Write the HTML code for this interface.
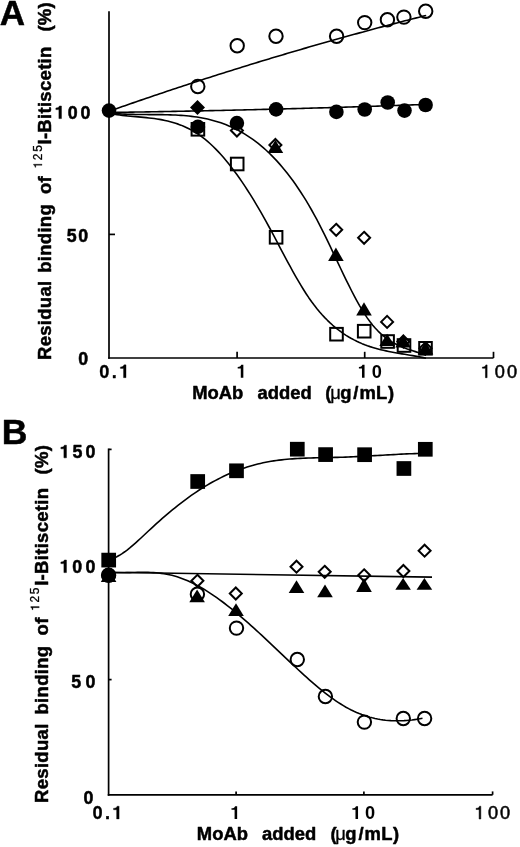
<!DOCTYPE html>
<html><head><meta charset="utf-8"><style>
html,body{margin:0;padding:0;background:#fff;}
svg{display:block;will-change:transform;}
text{font-family:"Liberation Sans",sans-serif;fill:#000;stroke:#000;stroke-width:0.5px;stroke-linejoin:round;}
</style></head><body>
<svg width="520" height="847" viewBox="0 0 520 847">
<rect width="520" height="847" fill="#fff"/>
<line x1="109" y1="11.2" x2="109" y2="358.85" stroke="#000" stroke-width="1.7"/>
<line x1="108.15" y1="358.0" x2="493.5" y2="358.0" stroke="#000" stroke-width="1.7"/>
<line x1="237.1" y1="351.8" x2="237.1" y2="358.0" stroke="#000" stroke-width="1.7"/>
<line x1="364.7" y1="351.8" x2="364.7" y2="358.0" stroke="#000" stroke-width="1.7"/>
<line x1="493.5" y1="351.8" x2="493.5" y2="358.0" stroke="#000" stroke-width="1.7"/>
<line x1="109" y1="234.4" x2="115" y2="234.4" stroke="#000" stroke-width="1.7"/>
<path d="M109.00,111.26 L111.67,110.32 L114.33,109.38 L117.00,108.44 L119.66,107.51 L122.33,106.58 L124.99,105.65 L127.66,104.73 L130.32,103.80 L132.99,102.88 L135.66,101.96 L138.32,101.04 L140.99,100.13 L143.65,99.22 L146.32,98.31 L148.98,97.40 L151.65,96.49 L154.31,95.59 L156.98,94.69 L159.65,93.79 L162.31,92.89 L164.98,92.00 L167.64,91.11 L170.31,90.22 L172.97,89.33 L175.64,88.45 L178.30,87.56 L180.97,86.68 L183.64,85.81 L186.30,84.93 L188.97,84.06 L191.63,83.18 L194.30,82.32 L196.96,81.45 L199.63,80.58 L202.29,79.72 L204.96,78.86 L207.63,78.00 L210.29,77.15 L212.96,76.30 L215.62,75.44 L218.29,74.60 L220.95,73.75 L223.62,72.91 L226.28,72.06 L228.95,71.22 L231.62,70.39 L234.28,69.55 L236.95,68.72 L239.61,67.89 L242.28,67.06 L244.94,66.24 L247.61,65.41 L250.27,64.59 L252.94,63.77 L255.61,62.95 L258.27,62.14 L260.94,61.33 L263.60,60.52 L266.27,59.71 L268.93,58.90 L271.60,58.10 L274.26,57.30 L276.93,56.50 L279.59,55.71 L282.26,54.91 L284.93,54.12 L287.59,53.33 L290.26,52.54 L292.92,51.76 L295.59,50.98 L298.25,50.20 L300.92,49.42 L303.58,48.64 L306.25,47.87 L308.92,47.10 L311.58,46.33 L314.25,45.56 L316.91,44.80 L319.58,44.04 L322.24,43.28 L324.91,42.52 L327.57,41.76 L330.24,41.01 L332.91,40.26 L335.57,39.51 L338.24,38.76 L340.90,38.02 L343.57,37.28 L346.23,36.54 L348.90,35.80 L351.56,35.07 L354.23,34.34 L356.90,33.61 L359.56,32.88 L362.23,32.15 L364.89,31.43 L367.56,30.71 L370.22,29.99 L372.89,29.27 L375.55,28.56 L378.22,27.85 L380.89,27.14 L383.55,26.43 L386.22,25.72 L388.88,25.02 L391.55,24.32 L394.21,23.62 L396.88,22.93 L399.54,22.23 L402.21,21.54 L404.88,20.85 L407.54,20.16 L410.21,19.48 L412.87,18.80 L415.54,18.12 L418.20,17.44 L420.87,16.76 L423.53,16.09 L426.20,15.42" fill="none" stroke="#000" stroke-width="1.6" stroke-linejoin="round"/>
<path d="M109.00,112.46 L111.66,112.42 L114.32,112.38 L116.98,112.34 L119.64,112.30 L122.30,112.26 L124.96,112.22 L127.62,112.18 L130.28,112.14 L132.94,112.10 L135.61,112.06 L138.27,112.01 L140.93,111.97 L143.59,111.93 L146.25,111.88 L148.91,111.84 L151.57,111.79 L154.23,111.74 L156.89,111.70 L159.55,111.65 L162.21,111.60 L164.87,111.55 L167.53,111.51 L170.19,111.46 L172.85,111.41 L175.51,111.36 L178.17,111.31 L180.83,111.26 L183.49,111.20 L186.15,111.15 L188.82,111.10 L191.48,111.05 L194.14,110.99 L196.80,110.94 L199.46,110.88 L202.12,110.83 L204.78,110.77 L207.44,110.72 L210.10,110.66 L212.76,110.60 L215.42,110.55 L218.08,110.49 L220.74,110.43 L223.40,110.37 L226.06,110.31 L228.72,110.25 L231.38,110.19 L234.04,110.13 L236.70,110.07 L239.36,110.01 L242.03,109.94 L244.69,109.88 L247.35,109.82 L250.01,109.75 L252.67,109.69 L255.33,109.62 L257.99,109.56 L260.65,109.49 L263.31,109.42 L265.97,109.36 L268.63,109.29 L271.29,109.22 L273.95,109.15 L276.61,109.08 L279.27,109.01 L281.93,108.94 L284.59,108.87 L287.25,108.80 L289.91,108.73 L292.57,108.66 L295.24,108.59 L297.90,108.51 L300.56,108.44 L303.22,108.37 L305.88,108.29 L308.54,108.22 L311.20,108.14 L313.86,108.06 L316.52,107.99 L319.18,107.91 L321.84,107.83 L324.50,107.75 L327.16,107.68 L329.82,107.60 L332.48,107.52 L335.14,107.44 L337.80,107.36 L340.46,107.28 L343.12,107.19 L345.78,107.11 L348.45,107.03 L351.11,106.95 L353.77,106.86 L356.43,106.78 L359.09,106.69 L361.75,106.61 L364.41,106.52 L367.07,106.44 L369.73,106.35 L372.39,106.26 L375.05,106.18 L377.71,106.09 L380.37,106.00 L383.03,105.91 L385.69,105.82 L388.35,105.73 L391.01,105.64 L393.67,105.55 L396.33,105.46 L398.99,105.36 L401.66,105.27 L404.32,105.18 L406.98,105.09 L409.64,104.99 L412.30,104.90 L414.96,104.80 L417.62,104.71 L420.28,104.61 L422.94,104.51 L425.60,104.42" fill="none" stroke="#000" stroke-width="1.6" stroke-linejoin="round"/>
<path d="M109.00,112.93 L111.66,113.22 L114.33,113.47 L116.99,113.68 L119.66,113.87 L122.32,114.03 L124.98,114.16 L127.65,114.27 L130.31,114.35 L132.97,114.42 L135.64,114.47 L138.30,114.51 L140.97,114.54 L143.63,114.56 L146.29,114.57 L148.96,114.58 L151.62,114.59 L154.29,114.60 L156.95,114.61 L159.61,114.63 L162.28,114.66 L164.94,114.71 L167.61,114.77 L170.27,114.84 L172.93,114.93 L175.60,115.05 L178.26,115.19 L180.92,115.36 L183.59,115.56 L186.25,115.79 L188.92,116.05 L191.58,116.35 L194.24,116.69 L196.91,117.08 L199.57,117.51 L202.24,117.98 L204.90,118.51 L207.56,119.09 L210.23,119.72 L212.89,120.42 L215.55,121.17 L218.22,121.98 L220.88,122.86 L223.55,123.81 L226.21,124.83 L228.87,125.92 L231.54,127.09 L234.20,128.33 L236.87,129.66 L239.53,131.06 L242.19,132.56 L244.86,134.14 L247.52,135.81 L250.18,137.58 L252.85,139.44 L255.51,141.40 L258.18,143.46 L260.84,145.62 L263.50,147.89 L266.17,150.27 L268.83,152.76 L271.50,155.37 L274.16,158.08 L276.82,160.92 L279.49,163.88 L282.15,166.96 L284.82,170.17 L287.48,173.51 L290.14,176.98 L292.81,180.58 L295.47,184.32 L298.13,188.20 L300.80,192.22 L303.46,196.38 L306.13,200.69 L308.79,205.15 L311.45,209.77 L314.12,214.53 L316.78,219.45 L319.45,224.53 L322.11,229.77 L324.77,235.14 L327.44,240.62 L330.10,246.18 L332.76,251.79 L335.43,257.44 L338.09,263.09 L340.76,268.72 L343.42,274.30 L346.08,279.81 L348.75,285.21 L351.41,290.50 L354.08,295.63 L356.74,300.58 L359.40,305.34 L362.07,309.86 L364.73,314.13 L367.39,318.12 L370.06,321.80 L372.72,325.18 L375.39,328.26 L378.05,331.07 L380.71,333.62 L383.38,335.93 L386.04,338.02 L388.71,339.91 L391.37,341.61 L394.03,343.15 L396.70,344.54 L399.36,345.79 L402.03,346.94 L404.69,347.99 L407.35,348.97 L410.02,349.88 L412.68,350.76 L415.34,351.62 L418.01,352.47 L420.67,353.34 L423.34,354.23 L426.00,355.18" fill="none" stroke="#000" stroke-width="1.6" stroke-linejoin="round"/>
<path d="M109.00,113.26 L111.66,113.77 L114.33,114.23 L116.99,114.65 L119.66,115.02 L122.32,115.35 L124.98,115.65 L127.65,115.93 L130.31,116.18 L132.97,116.43 L135.64,116.66 L138.30,116.89 L140.97,117.13 L143.63,117.38 L146.29,117.64 L148.96,117.93 L151.62,118.24 L154.29,118.58 L156.95,118.96 L159.61,119.39 L162.28,119.87 L164.94,120.41 L167.61,121.00 L170.27,121.67 L172.93,122.41 L175.60,123.23 L178.26,124.13 L180.92,125.13 L183.59,126.22 L186.25,127.42 L188.92,128.73 L191.58,130.15 L194.24,131.69 L196.91,133.36 L199.57,135.16 L202.24,137.10 L204.90,139.19 L207.56,141.41 L210.23,143.77 L212.89,146.27 L215.55,148.90 L218.22,151.66 L220.88,154.56 L223.55,157.58 L226.21,160.73 L228.87,164.00 L231.54,167.39 L234.20,170.90 L236.87,174.53 L239.53,178.28 L242.19,182.14 L244.86,186.11 L247.52,190.19 L250.18,194.37 L252.85,198.67 L255.51,203.06 L258.18,207.55 L260.84,212.15 L263.50,216.84 L266.17,221.62 L268.83,226.50 L271.50,231.44 L274.16,236.44 L276.82,241.47 L279.49,246.51 L282.15,251.56 L284.82,256.58 L287.48,261.56 L290.14,266.48 L292.81,271.32 L295.47,276.06 L298.13,280.69 L300.80,285.19 L303.46,289.53 L306.13,293.70 L308.79,297.68 L311.45,301.46 L314.12,305.04 L316.78,308.44 L319.45,311.66 L322.11,314.71 L324.77,317.59 L327.44,320.30 L330.10,322.86 L332.76,325.28 L335.43,327.54 L338.09,329.67 L340.76,331.67 L343.42,333.55 L346.08,335.31 L348.75,336.95 L351.41,338.48 L354.08,339.91 L356.74,341.25 L359.40,342.49 L362.07,343.64 L364.73,344.71 L367.39,345.70 L370.06,346.62 L372.72,347.47 L375.39,348.26 L378.05,348.99 L380.71,349.67 L383.38,350.30 L386.04,350.89 L388.71,351.44 L391.37,351.97 L394.03,352.46 L396.70,352.94 L399.36,353.39 L402.03,353.84 L404.69,354.28 L407.35,354.72 L410.02,355.17 L412.68,355.62 L415.34,356.09 L418.01,356.58 L420.67,357.09 L423.34,357.63 L426.00,358.21" fill="none" stroke="#000" stroke-width="1.6" stroke-linejoin="round"/>
<rect x="191.60" y="123.00" width="12.6" height="12.6" fill="none" stroke="#000" stroke-width="2.0"/>
<rect x="230.90" y="157.70" width="12.6" height="12.6" fill="none" stroke="#000" stroke-width="2.0"/>
<rect x="269.80" y="231.00" width="12.6" height="12.6" fill="none" stroke="#000" stroke-width="2.0"/>
<rect x="330.20" y="327.90" width="12.6" height="12.6" fill="none" stroke="#000" stroke-width="2.0"/>
<rect x="357.90" y="324.90" width="12.6" height="12.6" fill="none" stroke="#000" stroke-width="2.0"/>
<rect x="381.30" y="335.20" width="12.6" height="12.6" fill="none" stroke="#000" stroke-width="2.0"/>
<rect x="397.70" y="339.20" width="12.6" height="12.6" fill="none" stroke="#000" stroke-width="2.0"/>
<rect x="419.20" y="342.00" width="12.6" height="12.6" fill="none" stroke="#000" stroke-width="2.0"/>
<path d="M236.9,124.5 L242.9,130.5 L236.9,136.5 L230.9,130.5 Z" fill="none" stroke="#000" stroke-width="2.0" stroke-linejoin="miter"/>
<path d="M275.4,139.0 L281.4,145 L275.4,151.0 L269.4,145 Z" fill="none" stroke="#000" stroke-width="2.0" stroke-linejoin="miter"/>
<path d="M336.2,223.8 L342.2,229.8 L336.2,235.8 L330.2,229.8 Z" fill="none" stroke="#000" stroke-width="2.0" stroke-linejoin="miter"/>
<path d="M364.1,231.8 L370.1,237.8 L364.1,243.8 L358.1,237.8 Z" fill="none" stroke="#000" stroke-width="2.0" stroke-linejoin="miter"/>
<path d="M387.1,315.9 L393.1,321.9 L387.1,327.9 L381.1,321.9 Z" fill="none" stroke="#000" stroke-width="2.0" stroke-linejoin="miter"/>
<path d="M403.4,335.5 L409.4,341.5 L403.4,347.5 L397.4,341.5 Z" fill="none" stroke="#000" stroke-width="2.0" stroke-linejoin="miter"/>
<path d="M425.5,342.3 L431.5,348.3 L425.5,354.3 L419.5,348.3 Z" fill="none" stroke="#000" stroke-width="2.0" stroke-linejoin="miter"/>
<path d="M275.4,140.0 L283.2,153.1 L267.59999999999997,153.1 Z" fill="#000"/>
<path d="M335.9,247.6 L343.7,261.0 L328.09999999999997,261.0 Z" fill="#000"/>
<path d="M364,302.2 L371.8,315.4 L356.2,315.4 Z" fill="#000"/>
<path d="M387.1,333.8 L394.90000000000003,345.9 L379.3,345.9 Z" fill="#000"/>
<path d="M403.1,334.6 L410.90000000000003,347.4 L395.3,347.4 Z" fill="#000"/>
<path d="M425.5,341.5 L433.3,354.4 L417.7,354.4 Z" fill="#000"/>
<circle cx="197.8" cy="86.5" r="6.7" fill="none" stroke="#000" stroke-width="2.0"/>
<circle cx="237.2" cy="45.8" r="6.7" fill="none" stroke="#000" stroke-width="2.0"/>
<circle cx="276" cy="36.3" r="6.7" fill="none" stroke="#000" stroke-width="2.0"/>
<circle cx="336.6" cy="36.3" r="6.7" fill="none" stroke="#000" stroke-width="2.0"/>
<circle cx="364.7" cy="22.6" r="6.7" fill="none" stroke="#000" stroke-width="2.0"/>
<circle cx="387.4" cy="19.8" r="6.7" fill="none" stroke="#000" stroke-width="2.0"/>
<circle cx="403.9" cy="17.1" r="6.7" fill="none" stroke="#000" stroke-width="2.0"/>
<circle cx="425.7" cy="11.3" r="6.7" fill="none" stroke="#000" stroke-width="2.0"/>
<path d="M197.5,100.0 L205.0,107.5 L197.5,115.0 L190.0,107.5 Z" fill="#000"/>
<circle cx="109" cy="110.6" r="7.3" fill="#000"/>
<circle cx="197.9" cy="126.9" r="7.3" fill="#000"/>
<circle cx="236.9" cy="123.1" r="7.3" fill="#000"/>
<circle cx="276.1" cy="109.4" r="7.3" fill="#000"/>
<circle cx="336.4" cy="111.9" r="7.3" fill="#000"/>
<circle cx="364.7" cy="109.5" r="7.3" fill="#000"/>
<circle cx="387.7" cy="102.5" r="7.3" fill="#000"/>
<circle cx="404.5" cy="110.6" r="7.3" fill="#000"/>
<circle cx="425.6" cy="105" r="7.3" fill="#000"/>
<line x1="108.6" y1="448.6" x2="108.6" y2="795.65" stroke="#000" stroke-width="1.7"/>
<line x1="108.6" y1="449.4" x2="111.6" y2="449.4" stroke="#000" stroke-width="1.7"/>
<line x1="107.75" y1="794.8" x2="492.6" y2="794.8" stroke="#000" stroke-width="1.7"/>
<line x1="236.1" y1="791.4" x2="236.1" y2="794.8" stroke="#000" stroke-width="1.7"/>
<line x1="363.9" y1="791.4" x2="363.9" y2="794.8" stroke="#000" stroke-width="1.7"/>
<line x1="492.6" y1="791.4" x2="492.6" y2="794.8" stroke="#000" stroke-width="1.7"/>
<line x1="108.6" y1="679.6" x2="111.6" y2="679.6" stroke="#000" stroke-width="1.7"/>
<line x1="108.6" y1="564.7" x2="111.6" y2="564.7" stroke="#000" stroke-width="1.7"/>
<path d="M108.80,560.03 L111.46,559.19 L114.12,558.11 L116.78,556.81 L119.44,555.31 L122.10,553.62 L124.76,551.77 L127.42,549.78 L130.08,547.66 L132.74,545.42 L135.40,543.10 L138.06,540.71 L140.72,538.26 L143.38,535.78 L146.04,533.28 L148.69,530.78 L151.35,528.30 L154.01,525.86 L156.67,523.44 L159.33,521.06 L161.99,518.71 L164.65,516.40 L167.31,514.12 L169.97,511.88 L172.63,509.68 L175.29,507.52 L177.95,505.40 L180.61,503.32 L183.27,501.28 L185.93,499.29 L188.59,497.34 L191.25,495.44 L193.91,493.59 L196.57,491.79 L199.23,490.04 L201.89,488.33 L204.55,486.68 L207.21,485.08 L209.87,483.53 L212.53,482.04 L215.19,480.59 L217.85,479.19 L220.51,477.84 L223.17,476.54 L225.83,475.29 L228.48,474.09 L231.14,472.94 L233.80,471.84 L236.46,470.78 L239.12,469.78 L241.78,468.82 L244.44,467.91 L247.10,467.04 L249.76,466.22 L252.42,465.45 L255.08,464.73 L257.74,464.05 L260.40,463.42 L263.06,462.83 L265.72,462.29 L268.38,461.79 L271.04,461.32 L273.70,460.90 L276.36,460.51 L279.02,460.16 L281.68,459.84 L284.34,459.55 L287.00,459.29 L289.66,459.05 L292.32,458.85 L294.98,458.66 L297.64,458.50 L300.30,458.35 L302.96,458.22 L305.62,458.11 L308.27,458.01 L310.93,457.93 L313.59,457.85 L316.25,457.79 L318.91,457.73 L321.57,457.67 L324.23,457.62 L326.89,457.57 L329.55,457.52 L332.21,457.46 L334.87,457.40 L337.53,457.34 L340.19,457.26 L342.85,457.18 L345.51,457.09 L348.17,456.98 L350.83,456.88 L353.49,456.76 L356.15,456.64 L358.81,456.51 L361.47,456.37 L364.13,456.23 L366.79,456.09 L369.45,455.94 L372.11,455.80 L374.77,455.64 L377.43,455.49 L380.09,455.34 L382.75,455.19 L385.41,455.04 L388.06,454.88 L390.72,454.74 L393.38,454.59 L396.04,454.45 L398.70,454.31 L401.36,454.17 L404.02,454.04 L406.68,453.92 L409.34,453.80 L412.00,453.70 L414.66,453.59 L417.32,453.50 L419.98,453.42 L422.64,453.34 L425.30,453.28" fill="none" stroke="#000" stroke-width="1.6" stroke-linejoin="round"/>
<path d="M108.6,572.3 L432,577.1" fill="none" stroke="#000" stroke-width="1.6" stroke-linejoin="round"/>
<path d="M108.60,572.40 L111.24,572.55 L113.88,572.65 L116.51,572.70 L119.15,572.72 L121.79,572.72 L124.43,572.69 L127.06,572.64 L129.70,572.58 L132.34,572.52 L134.98,572.46 L137.62,572.41 L140.25,572.38 L142.89,572.36 L145.53,572.37 L148.17,572.41 L150.81,572.50 L153.44,572.62 L156.08,572.80 L158.72,573.04 L161.36,573.34 L163.99,573.71 L166.63,574.16 L169.27,574.69 L171.91,575.31 L174.55,576.02 L177.18,576.81 L179.82,577.69 L182.46,578.65 L185.10,579.69 L187.73,580.81 L190.37,582.01 L193.01,583.28 L195.65,584.62 L198.29,586.03 L200.92,587.50 L203.56,589.05 L206.20,590.66 L208.84,592.32 L211.47,594.05 L214.11,595.83 L216.75,597.67 L219.39,599.56 L222.03,601.50 L224.66,603.49 L227.30,605.53 L229.94,607.61 L232.58,609.73 L235.22,611.89 L237.85,614.09 L240.49,616.32 L243.13,618.59 L245.77,620.89 L248.40,623.21 L251.04,625.57 L253.68,627.94 L256.32,630.34 L258.96,632.76 L261.59,635.20 L264.23,637.65 L266.87,640.12 L269.51,642.60 L272.14,645.09 L274.78,647.58 L277.42,650.08 L280.06,652.58 L282.70,655.08 L285.33,657.58 L287.97,660.08 L290.61,662.57 L293.25,665.05 L295.88,667.51 L298.52,669.97 L301.16,672.40 L303.80,674.81 L306.44,677.19 L309.07,679.54 L311.71,681.86 L314.35,684.14 L316.99,686.37 L319.63,688.57 L322.26,690.71 L324.90,692.80 L327.54,694.84 L330.18,696.81 L332.81,698.72 L335.45,700.57 L338.09,702.34 L340.73,704.04 L343.37,705.66 L346.00,707.20 L348.64,708.66 L351.28,710.02 L353.92,711.30 L356.55,712.48 L359.19,713.59 L361.83,714.60 L364.47,715.53 L367.11,716.38 L369.74,717.15 L372.38,717.84 L375.02,718.46 L377.66,719.00 L380.29,719.47 L382.93,719.86 L385.57,720.19 L388.21,720.44 L390.85,720.63 L393.48,720.76 L396.12,720.82 L398.76,720.82 L401.40,720.76 L404.04,720.64 L406.67,720.46 L409.31,720.23 L411.95,719.95 L414.59,719.61 L417.22,719.23 L419.86,718.80 L422.50,718.31" fill="none" stroke="#000" stroke-width="1.6" stroke-linejoin="round"/>
<rect x="101.35" y="552.75" width="14.7" height="14.7" fill="#000"/>
<rect x="190.35" y="474.15" width="14.7" height="14.7" fill="#000"/>
<rect x="229.15" y="463.45" width="14.7" height="14.7" fill="#000"/>
<rect x="289.95" y="441.85" width="14.7" height="14.7" fill="#000"/>
<rect x="318.25" y="447.25" width="14.7" height="14.7" fill="#000"/>
<rect x="357.25" y="447.35" width="14.7" height="14.7" fill="#000"/>
<rect x="396.55" y="461.15" width="14.7" height="14.7" fill="#000"/>
<rect x="417.95" y="441.95" width="14.7" height="14.7" fill="#000"/>
<circle cx="108.6" cy="575.2" r="6.7" fill="none" stroke="#000" stroke-width="2.0"/>
<circle cx="197.4" cy="594.2" r="6.7" fill="none" stroke="#000" stroke-width="2.0"/>
<circle cx="236.5" cy="628.1" r="6.7" fill="none" stroke="#000" stroke-width="2.0"/>
<circle cx="297.3" cy="659.5" r="6.7" fill="none" stroke="#000" stroke-width="2.0"/>
<circle cx="325.4" cy="696.5" r="6.7" fill="none" stroke="#000" stroke-width="2.0"/>
<circle cx="364.4" cy="722.1" r="6.7" fill="none" stroke="#000" stroke-width="2.0"/>
<circle cx="403.3" cy="718.5" r="6.7" fill="none" stroke="#000" stroke-width="2.0"/>
<circle cx="424.6" cy="718.5" r="6.7" fill="none" stroke="#000" stroke-width="2.0"/>
<path d="M108.6,569.2 L114.6,575.2 L108.6,581.2 L102.6,575.2 Z" fill="none" stroke="#000" stroke-width="2.0" stroke-linejoin="miter"/>
<path d="M197.4,574.8 L203.4,580.8 L197.4,586.8 L191.4,580.8 Z" fill="none" stroke="#000" stroke-width="2.0" stroke-linejoin="miter"/>
<path d="M235.8,587.5 L241.8,593.5 L235.8,599.5 L229.8,593.5 Z" fill="none" stroke="#000" stroke-width="2.0" stroke-linejoin="miter"/>
<path d="M296.5,560.7 L302.5,566.7 L296.5,572.7 L290.5,566.7 Z" fill="none" stroke="#000" stroke-width="2.0" stroke-linejoin="miter"/>
<path d="M324.7,565.8 L330.7,571.8 L324.7,577.8 L318.7,571.8 Z" fill="none" stroke="#000" stroke-width="2.0" stroke-linejoin="miter"/>
<path d="M364.1,569.3 L370.1,575.3 L364.1,581.3 L358.1,575.3 Z" fill="none" stroke="#000" stroke-width="2.0" stroke-linejoin="miter"/>
<path d="M403.4,565.0 L409.4,571 L403.4,577.0 L397.4,571 Z" fill="none" stroke="#000" stroke-width="2.0" stroke-linejoin="miter"/>
<path d="M424.6,544.7 L430.6,550.7 L424.6,556.7 L418.6,550.7 Z" fill="none" stroke="#000" stroke-width="2.0" stroke-linejoin="miter"/>
<path d="M108.6,569.0 L116.39999999999999,581.9 L100.8,581.9 Z" fill="#000"/>
<path d="M197.1,589.5 L204.9,602.1999999999999 L189.29999999999998,602.1999999999999 Z" fill="#000"/>
<path d="M236,603.3 L243.8,616.1 L228.2,616.1 Z" fill="#000"/>
<path d="M296.5,580.3 L304.3,593.1 L288.7,593.1 Z" fill="#000"/>
<path d="M325,584.5 L332.8,597.3 L317.2,597.3 Z" fill="#000"/>
<path d="M364,577.9 L371.8,591.9 L356.2,591.9 Z" fill="#000"/>
<path d="M403.1,578.0 L410.90000000000003,589.8 L395.3,589.8 Z" fill="#000"/>
<path d="M424.4,578.0 L432.2,589.8 L416.59999999999997,589.8 Z" fill="#000"/>
<circle cx="108.6" cy="575.2" r="7.3" fill="#000"/>
<text x="-0.27" y="25.10" font-size="35" font-weight="bold" style="stroke-width:0.5px">A</text>
<text x="1.63" y="444.10" font-size="35.5" font-weight="bold" style="stroke-width:0.5px">B</text>
<path d="M61.42,118.60 L61.42,106.05 L59.37,106.05 C59.10,107.21 58.21,108.01 55.90,108.10 L55.90,109.61 L58.93,109.61 L58.93,118.60 Z" fill="#000" stroke="#000" stroke-width="0.5" stroke-linejoin="round"/>
<text x="67.80" y="118.60" font-size="17.8" font-weight="bold" style="stroke-width:0.5px">0</text>
<text x="80.50" y="118.60" font-size="17.8" font-weight="bold" style="stroke-width:0.5px">0</text>
<text x="66.65" y="242.30" font-size="17.8" font-weight="bold" style="stroke-width:0.5px">5</text>
<text x="78.30" y="242.30" font-size="17.8" font-weight="bold" style="stroke-width:0.5px">0</text>
<text x="78.30" y="365.40" font-size="17.8" font-weight="bold" style="stroke-width:0.5px">0</text>
<path d="M66.42,457.80 L66.42,445.25 L64.37,445.25 C64.10,446.41 63.21,447.21 60.90,447.30 L60.90,448.81 L63.93,448.81 L63.93,457.80 Z" fill="#000" stroke="#000" stroke-width="0.5" stroke-linejoin="round"/>
<text x="72.45" y="457.80" font-size="17.8" font-weight="bold" style="stroke-width:0.5px">5</text>
<text x="85.40" y="457.80" font-size="17.8" font-weight="bold" style="stroke-width:0.5px">0</text>
<path d="M66.42,572.60 L66.42,560.05 L64.37,560.05 C64.10,561.21 63.21,562.01 60.90,562.10 L60.90,563.61 L63.93,563.61 L63.93,572.60 Z" fill="#000" stroke="#000" stroke-width="0.5" stroke-linejoin="round"/>
<text x="72.30" y="572.60" font-size="17.8" font-weight="bold" style="stroke-width:0.5px">0</text>
<text x="85.40" y="572.60" font-size="17.8" font-weight="bold" style="stroke-width:0.5px">0</text>
<text x="71.25" y="688.30" font-size="17.8" font-weight="bold" style="stroke-width:0.5px">5</text>
<text x="85.40" y="688.30" font-size="17.8" font-weight="bold" style="stroke-width:0.5px">0</text>
<text x="83.50" y="804.00" font-size="17.8" font-weight="bold" style="stroke-width:0.5px">0</text>
<text x="99.28" y="377.70" font-size="18.2" font-weight="bold" style="stroke-width:0.3px">0</text>
<text x="111.76" y="377.70" font-size="18.2" font-weight="bold" style="stroke-width:0.3px">.</text>
<path d="M126.04,377.70 L126.04,364.87 L123.95,364.87 C123.68,366.05 122.77,366.87 120.40,366.96 L120.40,368.51 L123.49,368.51 L123.49,377.70 Z" fill="#000" stroke="#000" stroke-width="0.3" stroke-linejoin="round"/>
<path d="M243.34,377.70 L243.34,364.87 L241.25,364.87 C240.98,366.05 240.07,366.87 237.70,366.96 L237.70,368.51 L240.79,368.51 L240.79,377.70 Z" fill="#000" stroke="#000" stroke-width="0" stroke-linejoin="round"/>
<path d="M364.54,377.70 L364.54,364.87 L362.45,364.87 C362.18,366.05 361.27,366.87 358.90,366.96 L358.90,368.51 L361.99,368.51 L361.99,377.70 Z" fill="#000" stroke="#000" stroke-width="0" stroke-linejoin="round"/>
<text x="371.68" y="377.70" font-size="18.2" font-weight="bold" style="stroke:none">0</text>
<path d="M487.10,377.70 L487.10,364.91 L485.84,364.91 C485.51,366.23 484.47,366.96 482.40,367.05 L482.40,368.24 L485.44,368.24 L485.44,377.70 Z" fill="#000" stroke="#000" stroke-width="0.5" stroke-linejoin="round"/>
<text x="494.79" y="377.70" font-size="18.2" font-weight="normal" style="stroke-width:0.5px">0</text>
<text x="507.09" y="377.70" font-size="18.2" font-weight="normal" style="stroke-width:0.5px">0</text>
<text x="92.48" y="819.00" font-size="18.2" font-weight="bold" style="stroke-width:0.3px">0</text>
<text x="104.96" y="819.00" font-size="18.2" font-weight="bold" style="stroke-width:0.3px">.</text>
<path d="M119.14,819.00 L119.14,806.17 L117.05,806.17 C116.78,807.35 115.87,808.17 113.50,808.26 L113.50,809.81 L116.59,809.81 L116.59,819.00 Z" fill="#000" stroke="#000" stroke-width="0.3" stroke-linejoin="round"/>
<path d="M237.14,819.00 L237.14,806.17 L235.05,806.17 C234.78,807.35 233.87,808.17 231.50,808.26 L231.50,809.81 L234.59,809.81 L234.59,819.00 Z" fill="#000" stroke="#000" stroke-width="0" stroke-linejoin="round"/>
<path d="M358.04,819.00 L358.04,806.17 L355.95,806.17 C355.68,807.35 354.77,808.17 352.40,808.26 L352.40,809.81 L355.49,809.81 L355.49,819.00 Z" fill="#000" stroke="#000" stroke-width="0" stroke-linejoin="round"/>
<text x="365.08" y="819.00" font-size="18.2" font-weight="bold" style="stroke:none">0</text>
<path d="M480.80,819.00 L480.80,806.21 L479.54,806.21 C479.21,807.53 478.17,808.26 476.10,808.35 L476.10,809.54 L479.14,809.54 L479.14,819.00 Z" fill="#000" stroke="#000" stroke-width="0.5" stroke-linejoin="round"/>
<text x="487.89" y="819.00" font-size="18.2" font-weight="normal" style="stroke-width:0.5px">0</text>
<text x="499.99" y="819.00" font-size="18.2" font-weight="normal" style="stroke-width:0.5px">0</text>
<text x="192.27" y="399.20" font-size="18.4" font-weight="bold" style="stroke-width:0.5px">MoAb</text>
<text x="257.46" y="399.20" font-size="18.4" font-weight="bold" style="stroke-width:0.5px">added</text>
<text x="325.28" y="399.20" font-size="18.4" font-weight="bold" style="stroke-width:0.5px">(</text>
<text x="330.26" y="399.20" font-size="18.4" font-weight="normal" style="stroke-width:0.3px">μ</text>
<text x="340.25" y="399.20" font-size="18.4" font-weight="bold" style="stroke-width:0.5px">g</text>
<text x="353.32" y="399.20" font-size="18.4" font-weight="bold" style="stroke-width:0.5px">/</text>
<text x="359.49" y="399.20" font-size="18.4" font-weight="bold" style="stroke-width:0.5px">m</text>
<text x="376.07" y="399.20" font-size="18.4" font-weight="bold" style="stroke-width:0.5px">L</text>
<text x="387.88" y="399.20" font-size="18.4" font-weight="bold" style="stroke-width:0.5px">)</text>
<text x="196.87" y="839.60" font-size="18.4" font-weight="bold" style="stroke-width:0.5px">MoAb</text>
<text x="262.06" y="839.60" font-size="18.4" font-weight="bold" style="stroke-width:0.5px">added</text>
<text x="330.38" y="839.60" font-size="18.4" font-weight="bold" style="stroke-width:0.5px">(</text>
<text x="335.36" y="839.60" font-size="18.4" font-weight="normal" style="stroke-width:0.3px">μ</text>
<text x="345.35" y="839.60" font-size="18.4" font-weight="bold" style="stroke-width:0.5px">g</text>
<text x="358.42" y="839.60" font-size="18.4" font-weight="bold" style="stroke-width:0.5px">/</text>
<text x="364.59" y="839.60" font-size="18.4" font-weight="bold" style="stroke-width:0.5px">m</text>
<text x="381.17" y="839.60" font-size="18.4" font-weight="bold" style="stroke-width:0.5px">L</text>
<text x="392.98" y="839.60" font-size="18.4" font-weight="bold" style="stroke-width:0.5px">)</text>
<g transform="rotate(-90)"><text x="-360.04" y="51.40" font-size="18.5" font-weight="bold" letter-spacing="0.3" style="stroke-width:0.5px">Residual</text><text x="-272.82" y="51.40" font-size="18.5" font-weight="bold" letter-spacing="0.3" style="stroke-width:0.5px">binding</text><text x="-194.12" y="51.40" font-size="18.5" font-weight="bold" letter-spacing="0.3" style="stroke-width:0.5px">of</text><path d="M-164.20,42.00 L-164.20,33.56 L-165.03,33.56 C-165.25,34.44 -165.93,34.92 -167.30,34.98 L-167.30,35.76 L-165.30,35.76 L-165.30,42.00 Z" fill="#000" stroke="#000" stroke-width="0.3" stroke-linejoin="round"/><text x="-160.14" y="42.00" font-size="12.0" font-weight="normal" letter-spacing="1.7" style="stroke-width:0.3px">25</text><text x="-144.54" y="51.40" font-size="18.5" font-weight="bold" letter-spacing="0.3" style="stroke-width:0.5px">I-Bitiscetin</text><text x="-31.62" y="51.40" font-size="18.5" font-weight="bold" letter-spacing="0.3" style="stroke-width:0.5px">(%)</text></g>
<g transform="rotate(-90)"><text x="-802.94" y="47.80" font-size="18.5" font-weight="bold" letter-spacing="0.3" style="stroke-width:0.5px">Residual</text><text x="-714.52" y="47.80" font-size="18.5" font-weight="bold" letter-spacing="0.3" style="stroke-width:0.5px">binding</text><text x="-635.42" y="47.80" font-size="18.5" font-weight="bold" letter-spacing="0.3" style="stroke-width:0.5px">of</text><path d="M-606.60,39.20 L-606.60,30.76 L-607.43,30.76 C-607.65,31.64 -608.33,32.12 -609.70,32.18 L-609.70,32.96 L-607.70,32.96 L-607.70,39.20 Z" fill="#000" stroke="#000" stroke-width="0.3" stroke-linejoin="round"/><text x="-602.54" y="39.20" font-size="12.0" font-weight="normal" letter-spacing="1.7" style="stroke-width:0.3px">25</text><text x="-585.84" y="47.80" font-size="18.5" font-weight="bold" letter-spacing="0.3" style="stroke-width:0.5px">I-Bitiscetin</text><text x="-474.42" y="47.80" font-size="18.5" font-weight="bold" letter-spacing="0.3" style="stroke-width:0.5px">(%)</text></g>
</svg>
</body></html>
